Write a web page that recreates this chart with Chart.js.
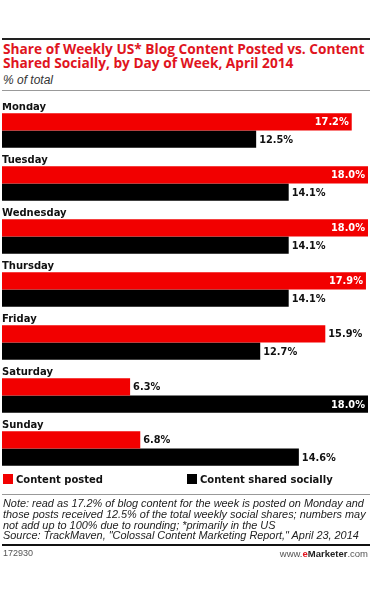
<!DOCTYPE html>
<html>
<head>
<meta charset="utf-8">
<script src="https://cdn.jsdelivr.net/npm/chart.js@4"></script>
<style>
  body { margin: 0; background: #fff; width: 370px; height: 599px; position: relative; overflow: hidden; font-family: "DejaVu Sans", sans-serif; }
  .rule-top { position: absolute; left: 2px; top: 38px; width: 368px; height: 2px; background: #222; }
  .title { position: absolute; left: 3px; font-family: "Open Sans", sans-serif; font-weight: bold; font-size: 14px; line-height: 14px; color: #e0141e; white-space: nowrap; }
  .sub { position: absolute; left: 3px; top: 73px; font-family: "Liberation Sans", Arial, sans-serif; font-style: italic; font-size: 12px; color: #333; }
  .rule-gray { position: absolute; left: 2px; top: 90px; width: 368px; height: 1px; background: #999; }
  #chart-container { position: absolute; left: 0; top: 103px; }
  .legend { position: absolute; top: 474px; font-weight: bold; font-size: 10px; color: #111; white-space: nowrap; }
  .legend span.box { display: inline-block; width: 10px; height: 10px; margin-right: 3px; vertical-align: -1px; }
  .rule-gray2 { position: absolute; left: 2px; top: 494px; width: 368px; height: 1px; background: #999; }
  .note { position: absolute; left: 3px; top: 498px; font-family: "Liberation Sans", Arial, sans-serif; font-style: italic; font-size: 10.9px; line-height: 10.8px; color: #222; white-space: nowrap; }
  .rule-bottom { position: absolute; left: 2px; top: 544px; width: 368px; height: 2px; background: #111; }
  .id { position: absolute; left: 3px; top: 548px; font-family: "Liberation Sans", Arial, sans-serif; font-size: 9px; color: #555; }
  .brand { position: absolute; right: 2px; top: 548px; font-family: "Liberation Sans", Arial, sans-serif; font-size: 9.5px; color: #555; }
  .brand b { color: #222; }
  .brand b.e { color: #e0141e; }
</style>
</head>
<body>
<div class="rule-top"></div>
<div class="title" id="t1" style="top:42px">Share of Weekly US* Blog Content Posted vs. Content</div>
<div class="title" id="t2" style="top:56px">Shared Socially, by Day of Week, April 2014</div>
<div class="sub">% of total</div>
<div class="rule-gray"></div>
<div id="chart-container"><canvas id="myChart" width="370" height="372"></canvas></div>
<div class="legend" style="left:3px"><span class="box" style="background:#f20000"></span>Content posted</div>
<div class="legend" style="left:187px"><span class="box" style="background:#000"></span>Content shared socially</div>
<div class="rule-gray2"></div>
<div class="note">Note: read as 17.2% of blog content for the week is posted on Monday and<br>those posts received 12.5% of the total weekly social shares; numbers may<br>not add up to 100% due to rounding; *primarily in the US<br>Source: TrackMaven, "Colossal Content Marketing Report," April 23, 2014</div>
<div class="rule-bottom"></div>
<div class="id">172930</div>
<div class="brand">www.<b class="e">e</b><b>Marketer</b>.com</div>

<script>
const days = ['Monday', 'Tuesday', 'Wednesday', 'Thursday', 'Friday', 'Saturday', 'Sunday'];
const contentPosted = [17.2, 18.0, 18.0, 17.9, 15.9, 6.3, 6.8];
const sharedSocially = [12.5, 14.1, 14.1, 14.1, 12.7, 18.0, 14.6];
const seriesNames = ['Content posted', 'Content shared socially'];

// shrink the title so the first line fits the width like the original
const t1 = document.getElementById('t1');
const t2 = document.getElementById('t2');
let size = 14;
while (t1.offsetWidth > 362 && size > 8) {
    size -= 0.1;
    t1.style.fontSize = size + 'px';
}
t2.style.fontSize = size + 'px';

// day names above each pair of bars, and the value labels
const labelPlugin = {
    id: 'labels',
    afterDatasetsDraw(chart) {
        const ctx = chart.ctx;
        const yScale = chart.scales.y;
        ctx.save();
        ctx.font = 'bold 10px "DejaVu Sans"';
        ctx.fillStyle = '#111';
        ctx.textBaseline = 'middle';
        ctx.textAlign = 'left';
        days.forEach((day, i) => {
            ctx.fillText(day, 2, yScale.getPixelForValue(i) - 23);
        });

        ctx.font = 'bold 9.8px "DejaVu Sans"';
        chart.data.datasets.forEach((ds, di) => {
            chart.getDatasetMeta(di).data.forEach((bar, i) => {
                const val = ds.data[i];
                const text = val.toFixed(1) + '%';
                if (val > 17) {
                    ctx.fillStyle = '#fff';
                    ctx.textAlign = 'right';
                    ctx.fillText(text, bar.x - 3, bar.y + 1);
                } else {
                    ctx.fillStyle = '#111';
                    ctx.textAlign = 'left';
                    ctx.fillText(text, bar.x + 3, bar.y + 1);
                }
            });
        });
        ctx.restore();
    }
};

const ctx = document.getElementById('myChart').getContext('2d');
new Chart(ctx, {
    type: 'bar',
    data: {
        labels: days,
        datasets: [
            { label: seriesNames[0], data: contentPosted, backgroundColor: '#f20000' },
            { label: seriesNames[1], data: sharedSocially, backgroundColor: '#000' }
        ]
    },
    options: {
        indexAxis: 'y',
        responsive: false,
        animation: false,
        devicePixelRatio: 1,
        categoryPercentage: 0.65,
        barPercentage: 1.0,
        layout: { padding: { left: 2, right: 2, top: 1, bottom: 0 } },
        plugins: { legend: { display: false }, tooltip: { enabled: false } },
        scales: {
            x: { min: 0, max: 18, display: false },
            y: { display: false }
        }
    },
    plugins: [labelPlugin]
});
</script>
</body>
</html>
